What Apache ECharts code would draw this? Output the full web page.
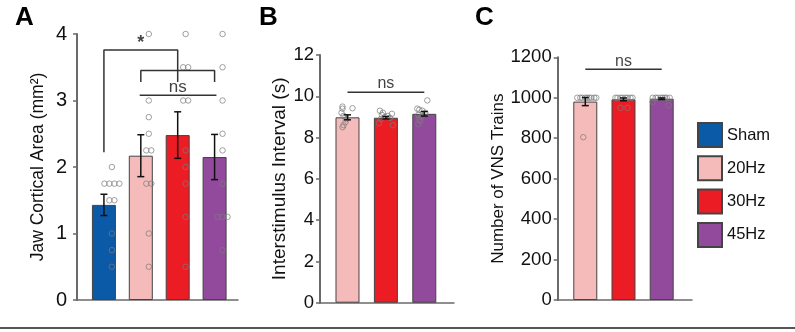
<!DOCTYPE html>
<html>
<head>
<meta charset="utf-8">
<script src="https://cdn.jsdelivr.net/npm/echarts@6/dist/echarts.min.js"></script>
<style>
  html, body { margin: 0; padding: 0; background: #fff; }
  #main { width: 795px; height: 332px; }
</style>
</head>
<body>
<div id="main"></div>
<script>
// A: jaw cortical area
const groupsA = ["Sham", "20Hz", "30Hz", "45Hz"]
const meanA = [1.43, 2.17, 2.48, 2.15]
const semA = [0.16, 0.315, 0.35, 0.34]
const dotsA = [
  [2, 1.75, 1.75, 1.75, 1.75, 1.5, 1.5, 1, 0.75, 0.5],
  [4, 3, 2.75, 2.5, 2.25, 2.25, 1.75, 1.75, 1, 0.5],
  [4, 3.5, 3.5, 3, 3, 2.25, 2, 1.75, 1.25, 0.5],
  [4, 3.5, 3, 2.5, 2.25, 1.75, 1.25, 1.25, 1.25, 0.75]
]
// B: interstimulus interval
const groupsB = ["20Hz", "30Hz", "45Hz"]
const meanB = [8.98, 8.96, 9.15]
const semB = [0.12, 0.06, 0.11]
const dotsB = [
  [9.5, 9.4, 9.42, 9.2, 9.05, 9.0, 8.9, 8.75, 8.6, 8.5],
  [9.3, 9.2, 9.15, 9.1, 9.05, 9.0, 8.95, 8.9, 8.7, 8.6],
  [9.8, 9.4, 9.35, 9.3, 9.2, 9.1, 9.0, 8.9, 8.8, 8.65]
]
// C: number of VNS trains
const groupsC = ["20Hz", "30Hz", "45Hz"]
const meanC = [981, 992, 995]
const semC = [20, 7, 4]
const dotsC = [
  [1000, 1000, 1000, 1000, 1000, 1000, 1000, 1000, 1000, 805],
  [1000, 1000, 1000, 1000, 1000, 1000, 1000, 1000, 950, 950],
  [1000, 1000, 1000, 1000, 1000, 1000, 1000, 1000, 979, 962]
]

// horizontal jitter of the dots, in pixels
const jitB = [
  [-5, -5, 5, -6, -4, -2, -1, -2, -4, -5],
  [-6, -3, 6, -4, 2, -1, 4, -5, -7, 7],
  [3, -7, -5, -2, 1, -6, -3, -5, -4, -6]
]
const jitC = [
  [-8, -5, -3, 0, 2, 4, 6, 9, 11, -2],
  [-8, -6, -3, -1, 2, 4, 7, 9, -3, 4],
  [-9, -6, -4, -1, 1, 3, 5, 8, -9, 7]
]

const colors = { Sham: "#0a5aa8", "20Hz": "#f5bbbb", "30Hz": "#ec1c24", "45Hz": "#924a9c" }
const font = "Liberation Sans, Arial, sans-serif"
const axisGray = "#6a6a6a"
// where the first bar sits on each panel's x axis (axis starts at 0)
const x0A = 0.73, x0B = 0.716, x0C = 0.722
const yMax = [4, 12, 1200]

const chart = echarts.init(document.getElementById("main"))

function xAxis(gi, max) {
  return {
    type: "value", gridIndex: gi, min: 0, max: max,
    axisLine: { show: true, onZero: false, lineStyle: { color: axisGray, width: 1.5 } },
    axisTick: { show: false }, axisLabel: { show: false }, splitLine: { show: false }
  }
}
function yAxis(gi, interval, name, gap, labelSize, nameSize, margin) {
  return {
    type: "value", gridIndex: gi, min: 0, max: yMax[gi], interval: interval,
    axisLine: { show: true, lineStyle: { color: axisGray, width: 2 } },
    axisTick: { show: true, length: 4, lineStyle: { color: axisGray, width: 1.5 } },
    axisLabel: {
      color: "#111", fontSize: labelSize, fontFamily: font, margin: margin,
      formatter: function (v) { return String(v) }
    },
    splitLine: { show: false },
    name: name, nameLocation: "middle", nameGap: gap,
    nameTextStyle: { color: "#111", fontSize: nameSize, fontFamily: font }
  }
}

const series = []

function addPanel(gi, x0, groups, means, sems, dots, xoff, pxPerUnit) {
  groups.forEach(function (g, i) {
    series.push({
      name: g, type: "bar", xAxisIndex: gi, yAxisIndex: gi,
      data: [[x0 + i, means[i]]], barWidth: 24, barGap: "-100%", z: 2, silent: true,
      itemStyle: { color: colors[g], borderColor: "#444", borderWidth: 1 }
    })
  })
  const pts = []
  dots.forEach(function (arr, i) {
    arr.forEach(function (v, k) {
      pts.push([x0 + i + xoff(i, k, arr) / pxPerUnit, v])
    })
  })
  series.push({
    type: "scatter", xAxisIndex: gi, yAxisIndex: gi, data: pts, z: 3, silent: true,
    symbol: "circle", symbolSize: 5.5,
    itemStyle: { color: "rgba(255,255,255,0)", borderColor: "#7a7a7a", borderWidth: 0.9 }
  })
  series.push({
    type: "custom", xAxisIndex: gi, yAxisIndex: gi, z: 4, silent: true,
    data: means.map(function (m, i) { return [x0 + i, m - sems[i], m + sems[i]] }),
    renderItem: function (params, api) {
      const lo = api.coord([api.value(0), api.value(1)])
      const hi = api.coord([api.value(0), api.value(2)])
      const w = 3.5
      const st = { stroke: "#111", lineWidth: 1.5 }
      return {
        type: "group", children: [
          { type: "line", shape: { x1: lo[0], y1: lo[1], x2: hi[0], y2: hi[1] }, style: st },
          { type: "line", shape: { x1: lo[0] - w, y1: lo[1], x2: lo[0] + w, y2: lo[1] }, style: st },
          { type: "line", shape: { x1: hi[0] - w, y1: hi[1], x2: hi[0] + w, y2: hi[1] }, style: st }
        ]
      }
    }
  })
}

// bracket / text positions are given as group index + value, shifted by x0
function addLine(gi, x0, pts) {
  series.push({
    type: "line", xAxisIndex: gi, yAxisIndex: gi, z: 5, silent: true,
    data: pts.map(function (p) { return [x0 + p[0], p[1]] }),
    symbol: "none", lineStyle: { color: "#333", width: 1.5 }, animation: false
  })
}
function addText(gi, x0, x, y, text, size, bold) {
  series.push({
    type: "scatter", xAxisIndex: gi, yAxisIndex: gi, data: [[x0 + x, y]], z: 6, silent: true,
    symbolSize: 0,
    label: {
      show: true, position: "inside", formatter: text, color: "#111",
      fontSize: size, fontFamily: font, fontWeight: bold ? "bold" : "normal"
    }
  })
}

// panel A dots: identical values are spread side by side, right of bar centre
addPanel(0, x0A, groupsA, meanA, semA, dotsA, function (i, k, arr) {
  const same = arr.filter(function (v) { return v === arr[k] }).length
  const idx = arr.slice(0, k).filter(function (v) { return v === arr[k] }).length
  return 8 + (idx - (same - 1) / 2) * 5
}, 37)
addPanel(1, x0B, groupsB, meanB, semB, dotsB, function (i, k) { return jitB[i][k] }, 38.4)
addPanel(2, x0C, groupsC, meanC, semC, dotsC, function (i, k) { return jitC[i][k] }, 38.2)

// significance marks
addLine(0, x0A, [[0, 2.22], [0, 3.76], [2, 3.76], [2, 3.28]])
addLine(0, x0A, [[1, 3.28], [1, 3.45], [3, 3.45], [3, 3.28]])
addLine(0, x0A, [[0.97, 3.08], [3.05, 3.08]])
addText(0, x0A, 1.0, 3.87, "*", 18, true)
addText(0, x0A, 2.0, 3.2, "ns", 17)
addLine(1, x0B, [[0, 10.2], [2, 10.2]])
addText(1, x0B, 1.0, 10.6, "ns", 16)
addLine(2, x0C, [[0, 1141], [2, 1141]])
addText(2, x0C, 1.0, 1180, "ns", 16)

chart.setOption({
  animation: false,
  title: [
    { text: "A", left: 10, top: 0, textStyle: { fontSize: 26, fontWeight: "bold", color: "#000", fontFamily: font } },
    { text: "B", left: 254, top: 0, textStyle: { fontSize: 26, fontWeight: "bold", color: "#000", fontFamily: font } },
    { text: "C", left: 470, top: 0, textStyle: { fontSize: 26, fontWeight: "bold", color: "#000", fontFamily: font } }
  ],
  grid: [
    { left: 77, top: 34, width: 161, height: 266 },
    { left: 320, top: 55, width: 134, height: 247.7 },
    { left: 557.7, top: 57.3, width: 134.3, height: 242.7 }
  ],
  xAxis: [xAxis(0, x0A + 3.635), xAxis(1, x0B + 2.773), xAxis(2, x0C + 2.793)],
  yAxis: [
    yAxis(0, 1, "Jaw Cortical Area (mm²)", 30, 20, 17.5, 10),
    yAxis(1, 2, "Interstimulus Interval (s)", 28, 18.5, 19, 6),
    yAxis(2, 200, "Number of VNS Trains", 44, 18.5, 17, 6)
  ],
  legend: {
    data: ["Sham", "20Hz", "30Hz", "45Hz"],
    orient: "vertical", left: 697, top: 122, padding: 0,
    itemWidth: 24, itemHeight: 24, itemGap: 7.3, icon: "rect",
    textStyle: { color: "#111", fontSize: 16.5, fontFamily: font }
  },
  series: series
})

// vertical axis lines and the rule along the bottom, placed from the axes
const rules = [0, 1, 2].map(function (gi) {
  const p0 = chart.convertToPixel({ gridIndex: gi }, [0, 0])
  const p1 = chart.convertToPixel({ gridIndex: gi }, [0, yMax[gi]])
  const x = Math.round(p0[0])
  return {
    type: "line", z: 50,
    shape: { x1: x, y1: p0[1], x2: x, y2: p1[1] },
    style: { stroke: axisGray, lineWidth: 2 }
  }
})
rules.push({ type: "line", shape: { x1: 0, y1: 328, x2: 795, y2: 328 }, style: { stroke: "#555", lineWidth: 2 } })
chart.setOption({ graphic: rules })
</script>
</body>
</html>
